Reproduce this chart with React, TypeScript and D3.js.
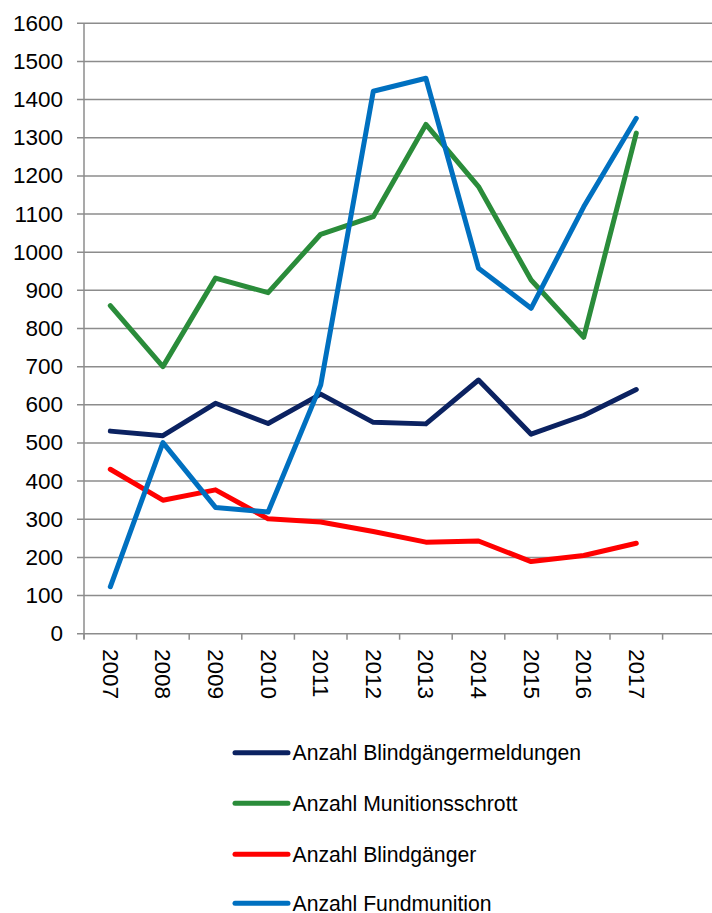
import React from "react";
import * as d3 from "d3";

const years = ["2007", "2008", "2009", "2010", "2011", "2012", "2013", "2014", "2015", "2016", "2017", ""];

const meldungen = [531, 519, 604, 551, 628, 554, 550, 665, 523, 572, 640];
const schrott = [860, 700, 932, 894, 1047, 1093, 1335, 1172, 927, 777, 1312];
const blindgaenger = [431, 350, 377, 301, 293, 268, 240, 243, 189, 205, 237];
const fundmunition = [123, 501, 331, 319, 652, 1422, 1456, 958, 853, 1119, 1351];

const yTicks = d3.range(0, 1601, 100);

const series = [
  { name: "Anzahl Blindgängermeldungen", values: meldungen, color: "#0b2261" },
  { name: "Anzahl Munitionsschrott", values: schrott, color: "#2a8c3a" },
  { name: "Anzahl Blindgänger", values: blindgaenger, color: "#ff0000" },
  { name: "Anzahl Fundmunition", values: fundmunition, color: "#0070c0" },
];

const width = 712;
const height = 913;
const left = 84;
const right = 715.2;
const top = 23.3;
const bottom = 633.7;

const font = "'Liberation Sans', Arial, sans-serif";

const App = () => {
  const x = d3.scaleBand().domain(years).range([left, right]);
  const y = d3.scaleLinear().domain([0, 1600]).range([bottom, top]);

  const line = d3
    .line<number>()
    .x((d, i) => x(years[i])! + x.bandwidth() / 2)
    .y((d) => y(d));

  const ticksX = years.map((yr) => x(yr)!).concat([right]);

  return (
    <>
      <style>{`body{margin:0}`}</style>
      <svg width={width} height={height} style={{ display: "block", background: "#fff" }}>
        {/* grid + y labels */}
        {yTicks.map((t) => (
          <g key={t}>
            <line x1={77} x2={width} y1={y(t)} y2={y(t)} stroke="#8c8c8c" strokeWidth={1.5} />
            <text
              x={63}
              y={y(t)}
              textAnchor="end"
              dominantBaseline="central"
              fontFamily={font}
              fontSize={22.5}
              fill="#000"
            >
              {t}
            </text>
          </g>
        ))}
        <line x1={left} x2={left} y1={top} y2={bottom + 5} stroke="#8c8c8c" strokeWidth={1.5} />
        {ticksX.map((tx, i) => (
          <line key={i} x1={tx} x2={tx} y1={bottom} y2={bottom + 6} stroke="#8c8c8c" strokeWidth={1.5} />
        ))}
        {years
          .filter((yr) => yr !== "")
          .map((yr) => {
            const cx = x(yr)! + x.bandwidth() / 2;
            return (
              <text
                key={yr}
                transform={`translate(${cx}, 649) rotate(90)`}
                dominantBaseline="central"
                fontFamily={font}
                fontSize={22.5}
                fill="#000"
              >
                {yr}
              </text>
            );
          })}

        {series.map((s) => (
          <path
            key={s.name}
            d={line(s.values) || ""}
            fill="none"
            stroke={s.color}
            strokeWidth={5}
            strokeLinejoin="round"
            strokeLinecap="round"
          />
        ))}

        {/* legend */}
        {series.map((s, i) => {
          const ly = [752.7, 803.3, 854.3, 903.3][i];
          return (
            <g key={s.name}>
              <line x1={235} x2={288} y1={ly} y2={ly} stroke={s.color} strokeWidth={5} strokeLinecap="round" />
              <text x={292.5} y={ly} dominantBaseline="central" fontFamily={font} fontSize={21.2} fill="#000">
                {s.name}
              </text>
            </g>
          );
        })}
      </svg>
    </>
  );
};

export default App;
